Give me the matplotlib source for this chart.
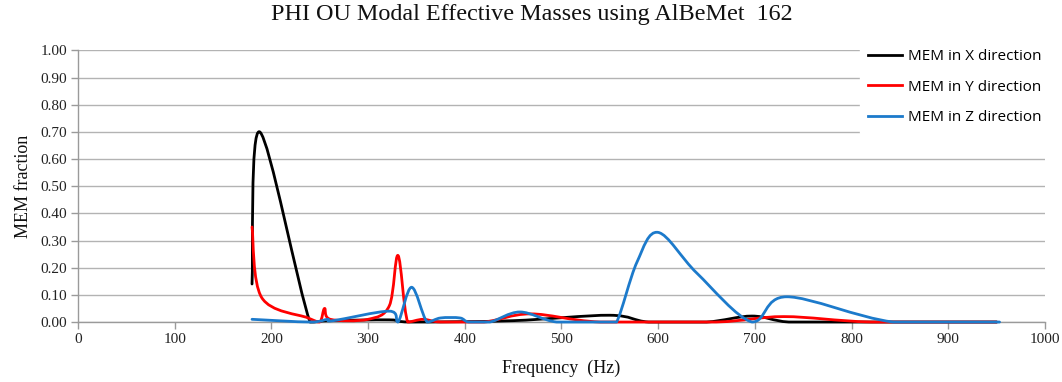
import matplotlib
matplotlib.use("Agg")
import matplotlib.pyplot as plt
from matplotlib.path import Path
from matplotlib.patches import PathPatch
from matplotlib.lines import Line2D
import numpy as np

# ---------------- data ----------------
title = "PHI OU Modal Effective Masses using AlBeMet  162"
xlabel = "Frequency  (Hz)"
ylabel = "MEM fraction"
series_labels = ["MEM in X direction", "MEM in Y direction", "MEM in Z direction"]
series_colors = ["#000000", "#ff0000", "#1c7acb"]

x_freq = [180, 188, 240, 260, 322, 345, 450, 550, 590, 650, 697, 735, 800, 950]
x_mem = [0.14, 0.70, 0.00, 0.005, 0.008, 0.0, 0.005, 0.025, 0.0, 0.0, 0.022, 0.0, 0.0, 0.0]

y_freq = [180, 190, 238, 250, 255, 261, 300, 322, 331, 341, 357, 375, 420, 468, 540, 660,
          730, 820, 950]
y_mem = [0.35, 0.09, 0.015, 0.0, 0.05, 0.01, 0.01, 0.06, 0.245, 0.0, 0.01, 0.0, 0.0,
         0.03, 0.0, 0.0, 0.02, 0.0, 0.0]

z_freq = [180, 240, 258, 264, 322, 331, 345, 361, 375, 395, 404, 426, 457, 495, 545, 557,
          578, 600, 640, 697, 733, 843, 953]
z_mem = [0.01, 0.0, 0.01, 0.005, 0.04, 0.0, 0.128, 0.0, 0.015, 0.015, 0.0, 0.0, 0.037, 0.0,
         0.0, 0.0, 0.22, 0.33, 0.18, 0.0, 0.093, 0.0, 0.0]

x_ticks = list(range(0, 1001, 100))
y_ticks = [i / 10 for i in range(0, 11)]


def smooth_path(xs, ys):
    """Excel-style smoothed line (Catmull-Rom Bezier), control points kept >= 0."""
    p = np.column_stack([xs, ys]).astype(float)
    n = len(p)
    verts = [tuple(p[0])]
    codes = [Path.MOVETO]
    for i in range(n - 1):
        p0 = p[i - 1] if i > 0 else p[i]
        p1 = p[i]
        p2 = p[i + 1]
        p3 = p[i + 2] if i + 2 < n else p[i + 1]
        c1 = p1 + (p2 - p0) / 6.0
        c2 = p2 - (p3 - p1) / 6.0
        c1[1] = max(c1[1], 0.0)
        c2[1] = max(c2[1], 0.0)
        verts += [tuple(c1), tuple(c2), tuple(p2)]
        codes += [Path.CURVE4] * 3
    return Path(verts, codes)


fig = plt.figure(figsize=(10.62, 3.82), dpi=100)
ax = fig.add_axes([0.0734, 0.157, 0.9106, 0.711])
ax.set_xlim(0, 1000)
ax.set_ylim(0, 1.0)

serif = ["Liberation Serif", "DejaVu Serif"]

for xs, ys, col in zip([x_freq, y_freq, z_freq], [x_mem, y_mem, z_mem], series_colors):
    patch = PathPatch(smooth_path(xs, ys), facecolor="none", edgecolor=col, lw=2.0,
                      capstyle="round", joinstyle="round", clip_on=False, zorder=3)
    ax.add_patch(patch)

ax.set_xticks(x_ticks)
ax.set_yticks(y_ticks)
ax.set_xticklabels([str(t) for t in x_ticks], fontfamily=serif, fontsize=11, color="#222222")
ax.set_yticklabels([f"{t:.2f}" for t in y_ticks], fontfamily=serif, fontsize=11, color="#222222")
ax.grid(axis="y", color="#b3b3b3", lw=1.0)
ax.set_axisbelow(True)
for s in ["top", "right"]:
    ax.spines[s].set_visible(False)
for s in ["left", "bottom"]:
    ax.spines[s].set_color("#9a9a9a")
    ax.spines[s].set_linewidth(1.0)
ax.tick_params(axis="both", direction="out", length=5, width=1.0, color="#9a9a9a", pad=3)

fig.text(0.501, 0.962, title, fontfamily=serif, fontsize=17.4, color="#111111",
         ha="center", va="center")
ax.set_xlabel(xlabel, fontfamily=serif, fontsize=13, color="#111111", labelpad=10)
ax.set_ylabel(ylabel, fontfamily=serif, fontsize=13, color="#111111", labelpad=6)

handles = [Line2D([0], [0], color=c, lw=2.0) for c in series_colors]
leg = ax.legend(handles, series_labels, loc="upper right", bbox_to_anchor=(1.012, 1.06),
                frameon=True, fancybox=False, framealpha=1.0, edgecolor="white",
                prop={"family": ["Open Sans", "DejaVu Sans"], "size": 11},
                handlelength=2.2, handletextpad=0.4, labelspacing=1.0, borderpad=0.5)
leg.set_zorder(5)

fig.savefig("out.png", dpi=100, facecolor="white")
